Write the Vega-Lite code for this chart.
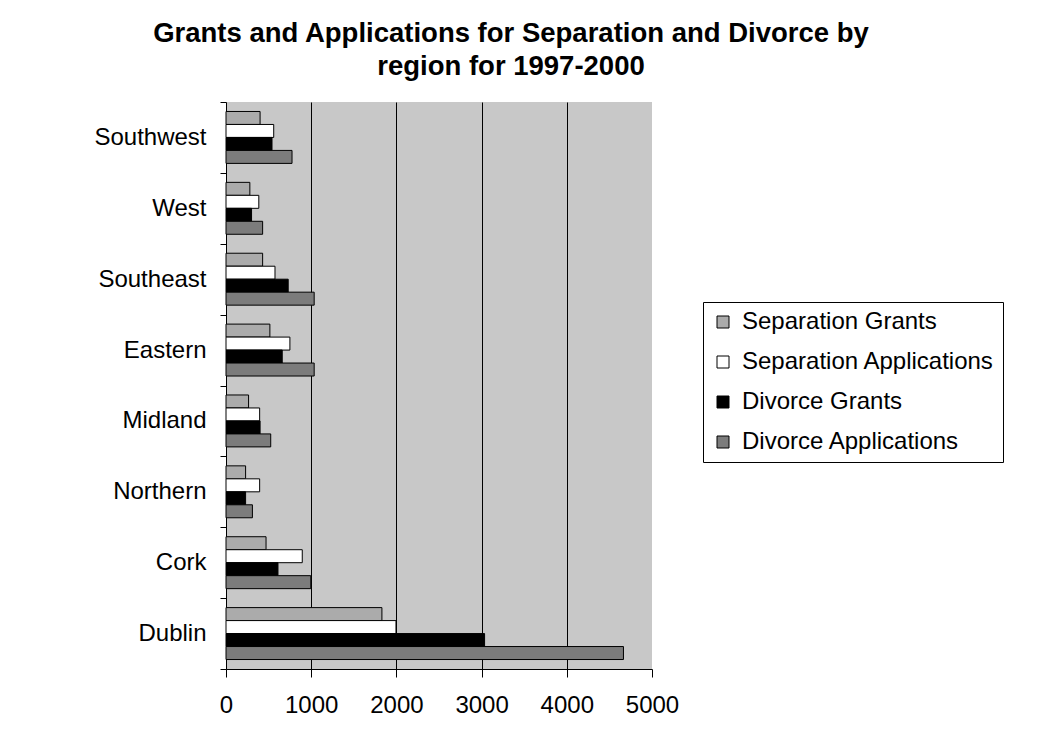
{
  "$schema": "https://vega.github.io/schema/vega-lite/v6.json",
  "width": 426,
  "height": 567,
  "autosize": {"type": "none"},
  "padding": {"left": 226, "top": 102, "right": 397, "bottom": 62},
  "background": "white",
  "title": {
    "text": ["Grants and Applications for Separation and Divorce by", "region for 1997-2000"],
    "font": "Liberation Sans",
    "fontSize": 27.5,
    "fontWeight": "bold",
    "color": "black",
    "lineHeight": 33,
    "anchor": "middle",
    "frame": "group",
    "dx": 72,
    "offset": 10
  },
  "data": {
    "values": [
      {"region": "Southwest", "series": "Separation Grants", "value": 400},
      {"region": "Southwest", "series": "Separation Applications", "value": 560},
      {"region": "Southwest", "series": "Divorce Grants", "value": 540},
      {"region": "Southwest", "series": "Divorce Applications", "value": 775},
      {"region": "West", "series": "Separation Grants", "value": 280},
      {"region": "West", "series": "Separation Applications", "value": 385},
      {"region": "West", "series": "Divorce Grants", "value": 300},
      {"region": "West", "series": "Divorce Applications", "value": 430},
      {"region": "Southeast", "series": "Separation Grants", "value": 430},
      {"region": "Southeast", "series": "Separation Applications", "value": 575},
      {"region": "Southeast", "series": "Divorce Grants", "value": 730},
      {"region": "Southeast", "series": "Divorce Applications", "value": 1035},
      {"region": "Eastern", "series": "Separation Grants", "value": 515},
      {"region": "Eastern", "series": "Separation Applications", "value": 750},
      {"region": "Eastern", "series": "Divorce Grants", "value": 660},
      {"region": "Eastern", "series": "Divorce Applications", "value": 1035},
      {"region": "Midland", "series": "Separation Grants", "value": 265},
      {"region": "Midland", "series": "Separation Applications", "value": 395},
      {"region": "Midland", "series": "Divorce Grants", "value": 400},
      {"region": "Midland", "series": "Divorce Applications", "value": 525},
      {"region": "Northern", "series": "Separation Grants", "value": 230},
      {"region": "Northern", "series": "Separation Applications", "value": 395},
      {"region": "Northern", "series": "Divorce Grants", "value": 230},
      {"region": "Northern", "series": "Divorce Applications", "value": 310},
      {"region": "Cork", "series": "Separation Grants", "value": 470},
      {"region": "Cork", "series": "Separation Applications", "value": 895},
      {"region": "Cork", "series": "Divorce Grants", "value": 610},
      {"region": "Cork", "series": "Divorce Applications", "value": 995},
      {"region": "Dublin", "series": "Separation Grants", "value": 1830},
      {"region": "Dublin", "series": "Separation Applications", "value": 1995},
      {"region": "Dublin", "series": "Divorce Grants", "value": 3035},
      {"region": "Dublin", "series": "Divorce Applications", "value": 4665}
    ]
  },
  "mark": {"type": "bar", "stroke": "black", "strokeWidth": 1},
  "encoding": {
    "y": {
      "field": "region",
      "type": "nominal",
      "sort": ["Southwest", "West", "Southeast", "Eastern", "Midland", "Northern", "Cork", "Dublin"],
      "scale": {"paddingInner": 0, "paddingOuter": 0},
      "axis": {
        "title": null,
        "tickBand": "extent",
        "tickSize": 6,
        "tickColor": "black",
        "domainColor": "black",
        "labelFont": "Liberation Sans",
        "labelFontSize": 24,
        "labelColor": "black",
        "labelPadding": 14,
        "grid": false
      }
    },
    "yOffset": {
      "field": "series",
      "type": "nominal",
      "sort": ["Separation Grants", "Separation Applications", "Divorce Grants", "Divorce Applications"],
      "scale": {"paddingInner": 0, "paddingOuter": 0.73}
    },
    "x": {
      "field": "value",
      "type": "quantitative",
      "scale": {"domain": [0, 5000], "nice": false},
      "axis": {
        "title": null,
        "values": [0, 1000, 2000, 3000, 4000, 5000],
        "format": "d",
        "grid": true,
        "gridColor": "black",
        "gridOpacity": {"condition": {"test": "datum.value > 0 && datum.value < 5000", "value": 1}, "value": 0},
        "tickSize": 8,
        "tickColor": "black",
        "domainColor": "black",
        "labelFont": "Liberation Sans",
        "labelFontSize": 24,
        "labelColor": "black",
        "labelPadding": 16,
        "labelFlush": false
      }
    },
    "fill": {
      "field": "series",
      "type": "nominal",
      "sort": ["Separation Grants", "Separation Applications", "Divorce Grants", "Divorce Applications"],
      "scale": {
        "domain": ["Separation Grants", "Separation Applications", "Divorce Grants", "Divorce Applications"],
        "range": ["#ababab", "#ffffff", "#000000", "#7c7c7c"]
      },
      "legend": {
        "title": null,
        "orient": "none",
        "legendX": 477,
        "legendY": 200,
        "symbolType": "square",
        "symbolSize": 144,
        "symbolStrokeColor": "black",
        "symbolStrokeWidth": 1,
        "labelFont": "Liberation Sans",
        "labelFontSize": 24,
        "labelColor": "black",
        "labelLimit": 400,
        "labelOffset": 7,
        "rowPadding": 16,
        "padding": 8,
        "strokeColor": "black",
        "fillColor": "white"
      }
    }
  },
  "config": {
    "view": {"fill": "#c8c8c8", "stroke": null}
  }
}
